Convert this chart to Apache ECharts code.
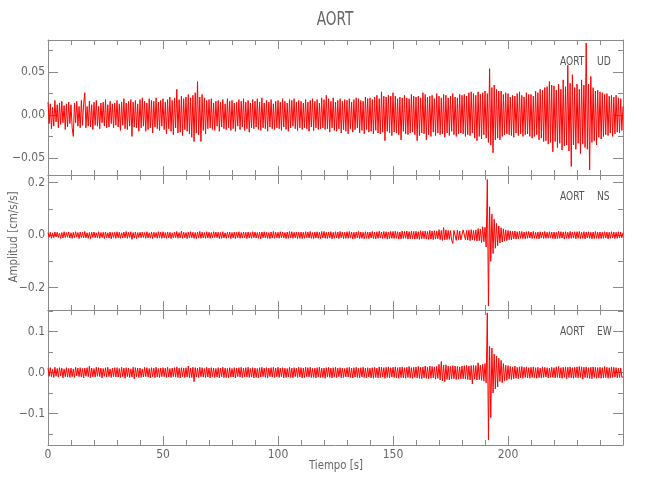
<!DOCTYPE html>
<html>
<head>
<meta charset="utf-8">
<script src="https://cdn.jsdelivr.net/npm/echarts@6/dist/echarts.min.js"></script>
<style>html,body{margin:0;padding:0;background:#fff;}#c{width:650px;height:500px;}</style>
</head>
<body>
<div id="c"></div>
<script>
// ---- data: one sample every 0.5 s, t = 0..250 s (cm/s/s) ----
const sampleStep = 0.5;
const udValues = [
0.015,-0.010,0.013,-0.016,0.009,-0.013,0.017,-0.008,0.012,-0.015,0.014,-0.011,0.016,-0.009,0.011,-0.017,0.013,-0.014,0.015,-0.010,
0.012,-0.015,-0.025,0.014,-0.009,0.016,-0.013,0.010,-0.015,0.017,-0.012,0.013,0.026,-0.015,0.010,-0.013,0.016,-0.014,0.012,-0.017,
0.015,-0.012,0.017,-0.013,0.010,-0.016,0.014,-0.009,0.015,-0.013,0.018,-0.015,0.012,-0.014,0.016,-0.010,0.013,-0.015,0.014,-0.012,
0.017,-0.014,0.013,-0.018,0.015,-0.012,0.019,-0.016,0.014,-0.017,0.016,-0.013,0.018,-0.025,0.015,-0.014,0.017,-0.015,0.013,-0.019,
0.018,-0.015,0.020,-0.013,0.016,-0.019,0.014,-0.017,0.019,-0.015,0.017,-0.021,0.016,-0.014,0.020,-0.016,0.015,-0.018,0.017,-0.013,
0.019,-0.017,0.015,-0.022,0.018,-0.016,0.021,-0.019,0.017,-0.023,0.020,-0.015,0.030,-0.021,0.018,-0.020,0.022,-0.024,0.019,-0.017,
0.021,-0.019,0.024,-0.022,0.020,-0.026,0.023,-0.031,0.026,-0.021,0.039,-0.023,0.021,-0.031,0.024,-0.018,0.020,-0.022,0.017,-0.016,
0.018,-0.015,0.019,-0.017,0.014,-0.018,0.016,-0.013,0.017,-0.019,0.015,-0.014,0.018,-0.016,0.013,-0.017,0.019,-0.015,0.016,-0.018,
0.017,-0.016,0.014,-0.019,0.015,-0.013,0.018,-0.017,0.016,-0.014,0.019,-0.018,0.015,-0.016,0.017,-0.020,0.014,-0.015,0.018,-0.016,
0.016,-0.014,0.019,-0.017,0.015,-0.018,0.020,-0.015,0.014,-0.016,0.017,-0.019,0.015,-0.014,0.018,-0.016,0.013,-0.017,0.016,-0.015,
0.017,-0.016,0.015,-0.018,0.019,-0.014,0.016,-0.017,0.014,-0.019,0.018,-0.015,0.017,-0.013,0.019,-0.016,0.015,-0.018,0.017,-0.015,
0.016,-0.017,0.014,-0.015,0.018,-0.016,0.015,-0.019,0.017,-0.014,0.019,-0.018,0.016,-0.015,0.018,-0.017,0.014,-0.016,0.020,-0.015,
0.018,-0.017,0.023,-0.016,0.019,-0.020,0.016,-0.015,0.020,-0.018,0.015,-0.019,0.017,-0.016,0.019,-0.021,0.016,-0.017,0.018,-0.019,
0.017,-0.022,0.019,-0.016,0.015,-0.020,0.018,-0.017,0.020,-0.015,0.019,-0.021,0.017,-0.018,0.016,-0.022,0.021,-0.017,0.019,-0.020,
0.020,-0.019,0.018,-0.022,0.021,-0.018,0.023,-0.021,0.019,-0.022,0.027,-0.020,0.022,-0.030,0.021,-0.019,0.023,-0.021,0.022,-0.024,
0.026,-0.020,0.022,-0.021,0.019,-0.023,0.021,-0.029,0.020,-0.019,0.023,-0.022,0.020,-0.023,0.019,-0.021,0.024,-0.020,0.022,-0.023,
0.021,-0.030,0.022,-0.024,0.020,-0.021,0.026,-0.022,0.024,-0.029,0.021,-0.023,0.022,-0.025,0.023,-0.020,0.019,-0.024,0.025,-0.021,
0.022,-0.023,0.020,-0.022,0.024,-0.026,0.023,-0.021,0.020,-0.024,0.022,-0.019,0.025,-0.023,0.021,-0.025,0.020,-0.022,0.024,-0.021,
0.023,-0.022,0.024,-0.025,0.022,-0.023,0.026,-0.024,0.027,-0.021,0.025,-0.027,0.023,-0.030,0.027,-0.025,0.024,-0.028,0.026,-0.023,
0.028,-0.027,0.025,-0.032,0.054,-0.035,0.032,-0.044,0.035,-0.029,0.030,-0.027,0.028,-0.029,0.028,-0.025,0.024,-0.023,0.026,-0.022,
0.025,-0.023,0.021,-0.024,0.023,-0.026,0.022,-0.021,0.025,-0.024,0.027,-0.022,0.023,-0.025,0.021,-0.023,0.026,-0.022,0.024,-0.025,
0.024,-0.027,0.022,-0.025,0.028,-0.023,0.026,-0.029,0.030,-0.027,0.029,-0.031,0.032,-0.030,0.033,-0.034,0.039,-0.032,0.035,-0.043,
0.034,-0.031,0.029,-0.038,0.036,-0.033,0.030,-0.041,0.041,-0.036,0.033,-0.035,0.058,-0.042,0.037,-0.060,0.047,-0.035,0.032,-0.040,
0.036,-0.033,0.030,-0.045,0.041,-0.034,0.035,-0.038,0.084,-0.040,0.036,-0.064,0.045,-0.032,0.032,-0.030,0.028,-0.035,0.029,-0.026,
0.027,-0.028,0.026,-0.025,0.024,-0.023,0.025,-0.024,0.022,-0.021,0.023,-0.025,0.021,-0.022,0.023,-0.020,0.020,-0.021,0.019,-0.018,
0.010
];
const nsValues = [
0.010,-0.008,0.011,-0.012,0.009,-0.010,0.012,-0.007,0.011,-0.009,0.008,-0.012,0.010,-0.011,0.013,-0.009,0.010,-0.008,0.012,-0.011,
0.009,-0.012,0.011,-0.010,0.013,-0.008,0.010,-0.013,0.012,-0.009,0.011,-0.010,0.014,-0.011,0.009,-0.012,0.010,-0.013,0.011,-0.009,
0.012,-0.010,0.009,-0.011,0.013,-0.012,0.010,-0.009,0.011,-0.013,0.012,-0.010,0.009,-0.011,0.012,-0.014,0.010,-0.009,0.011,-0.012,
0.013,-0.010,0.011,-0.012,0.009,-0.011,0.012,-0.010,0.014,-0.012,0.011,-0.009,0.013,-0.016,0.010,-0.011,0.012,-0.013,0.010,-0.009,
0.011,-0.010,0.012,-0.009,0.010,-0.012,0.013,-0.011,0.009,-0.010,0.012,-0.013,0.011,-0.009,0.010,-0.012,0.013,-0.010,0.011,-0.012,
0.013,-0.011,0.010,-0.012,0.012,-0.010,0.011,-0.013,0.009,-0.011,0.012,-0.010,0.014,-0.012,0.010,-0.011,0.015,-0.012,0.011,-0.010,
0.010,-0.013,0.012,-0.011,0.013,-0.010,0.011,-0.012,0.010,-0.013,0.012,-0.011,0.014,-0.012,0.011,-0.010,0.010,-0.012,0.013,-0.011,
0.011,-0.012,0.010,-0.011,0.013,-0.009,0.012,-0.010,0.011,-0.013,0.010,-0.012,0.013,-0.011,0.009,-0.012,0.011,-0.010,0.012,-0.013,
0.010,-0.011,0.012,-0.013,0.011,-0.010,0.013,-0.012,0.010,-0.011,0.012,-0.010,0.011,-0.013,0.012,-0.011,0.010,-0.012,0.013,-0.010,
0.012,-0.011,0.010,-0.012,0.011,-0.014,0.012,-0.010,0.013,-0.011,0.011,-0.012,0.010,-0.013,0.012,-0.011,0.014,-0.012,0.011,-0.010,
0.011,-0.012,0.013,-0.010,0.012,-0.011,0.010,-0.013,0.012,-0.012,0.014,-0.011,0.013,-0.012,0.011,-0.010,0.012,-0.013,0.011,-0.012,
0.012,-0.013,0.011,-0.012,0.013,-0.010,0.012,-0.011,0.014,-0.012,0.010,-0.013,0.012,-0.011,0.013,-0.012,0.011,-0.013,0.014,-0.011,
0.014,-0.012,0.011,-0.013,0.012,-0.011,0.013,-0.014,0.011,-0.012,0.013,-0.011,0.012,-0.013,0.014,-0.010,0.012,-0.013,0.011,-0.012,
0.013,-0.012,0.014,-0.011,0.012,-0.014,0.011,-0.013,0.012,-0.011,0.014,-0.013,0.012,-0.012,0.011,-0.014,0.013,-0.012,0.012,-0.013,
0.012,-0.011,0.014,-0.013,0.012,-0.014,0.013,-0.012,0.015,-0.011,0.012,-0.013,0.014,-0.012,0.013,-0.015,0.012,-0.013,0.014,-0.012,
0.014,-0.013,0.015,-0.012,0.013,-0.015,0.012,-0.014,0.016,-0.013,0.014,-0.012,0.016,-0.015,0.013,-0.014,0.015,-0.013,0.014,-0.015,
0.015,-0.014,0.013,-0.016,0.017,-0.014,0.015,-0.013,0.016,-0.015,0.014,-0.016,0.018,-0.015,0.016,-0.017,0.017,-0.015,0.016,-0.014,
0.021,-0.017,0.018,-0.020,0.029,-0.018,0.020,-0.017,0.018,-0.016,0.017,-0.019,-0.032,0.018,0.017,-0.020,0.019,-0.017,0.016,-0.018,
-0.018,0.020,0.019,-0.017,0.018,-0.019,0.019,-0.021,0.021,-0.018,0.018,-0.020,0.020,-0.022,0.025,-0.021,0.023,-0.028,0.032,-0.025,
0.030,-0.045,0.212,-0.270,0.108,-0.100,0.080,-0.070,0.060,-0.050,0.045,-0.040,0.035,-0.030,0.028,-0.026,0.024,-0.022,0.020,-0.021,
0.018,-0.017,0.016,-0.018,0.015,-0.014,0.016,-0.015,0.013,-0.014,0.015,-0.012,0.014,-0.013,0.012,-0.014,0.013,-0.012,0.014,-0.011,
0.012,-0.013,0.014,-0.012,0.011,-0.013,0.012,-0.014,0.013,-0.011,0.012,-0.013,0.014,-0.012,0.011,-0.012,0.013,-0.011,0.012,-0.013,
0.012,-0.014,0.011,-0.013,0.015,-0.012,0.013,-0.011,0.012,-0.015,0.013,-0.012,0.011,-0.013,0.014,-0.012,0.012,-0.011,0.013,-0.014,
0.013,-0.012,0.014,-0.013,0.011,-0.012,0.013,-0.014,0.012,-0.011,0.013,-0.012,0.011,-0.014,0.012,-0.013,0.014,-0.012,0.011,-0.013,
0.012,-0.013,0.011,-0.012,0.013,-0.011,0.012,-0.014,0.011,-0.012,0.013,-0.011,0.012,-0.013,0.011,-0.012,0.013,-0.011,0.012,-0.010,
0.009
];
const ewValues = [
0.011,-0.009,0.012,-0.010,0.008,-0.012,0.013,-0.009,0.010,-0.011,0.012,-0.008,0.011,-0.013,0.009,-0.010,0.012,-0.011,0.010,-0.012,
0.011,-0.010,0.009,-0.012,0.013,-0.008,0.011,-0.010,0.012,-0.011,0.010,-0.013,0.011,-0.009,0.012,-0.010,0.016,-0.012,0.011,-0.010,
0.010,-0.011,0.013,-0.009,0.012,-0.010,0.011,-0.013,0.010,-0.009,0.012,-0.011,0.013,-0.010,0.009,-0.012,0.011,-0.010,0.012,-0.011,
0.012,-0.011,0.010,-0.012,0.013,-0.010,0.011,-0.014,0.012,-0.010,0.011,-0.012,0.009,-0.011,0.013,-0.015,0.012,-0.010,0.011,-0.012,
0.011,-0.012,0.009,-0.011,0.013,-0.010,0.012,-0.011,0.010,-0.013,0.012,-0.010,0.011,-0.012,0.013,-0.011,0.010,-0.012,0.011,-0.010,
0.012,-0.010,0.011,-0.012,0.013,-0.011,0.010,-0.012,0.011,-0.010,0.012,-0.011,0.014,-0.012,0.011,-0.013,0.012,-0.010,0.011,-0.012,
0.012,-0.011,0.016,-0.013,0.011,-0.012,0.013,-0.022,0.012,-0.011,0.011,-0.012,0.013,-0.010,0.012,-0.011,0.010,-0.012,0.013,-0.011,
0.011,-0.013,0.012,-0.010,0.011,-0.012,0.010,-0.011,0.012,-0.013,0.011,-0.010,0.013,-0.012,0.011,-0.012,0.010,-0.013,0.012,-0.011,
0.010,-0.011,0.012,-0.013,0.011,-0.010,0.012,-0.011,0.013,-0.012,0.011,-0.010,0.012,-0.011,0.013,-0.012,0.010,-0.011,0.012,-0.013,
0.011,-0.012,0.010,-0.013,0.012,-0.011,0.013,-0.010,0.011,-0.012,0.012,-0.013,0.011,-0.010,0.012,-0.011,0.013,-0.012,0.011,-0.010,
0.013,-0.012,0.011,-0.010,0.012,-0.013,0.011,-0.012,0.010,-0.011,0.013,-0.012,0.011,-0.013,0.012,-0.010,0.011,-0.012,0.013,-0.011,
0.012,-0.013,0.011,-0.012,0.013,-0.010,0.012,-0.011,0.013,-0.012,0.010,-0.012,0.011,-0.013,0.012,-0.011,0.013,-0.012,0.011,-0.012,
0.011,-0.014,0.012,-0.011,0.013,-0.012,0.011,-0.013,0.012,-0.011,0.013,-0.012,0.011,-0.010,0.012,-0.013,0.011,-0.012,0.010,-0.011,
0.012,-0.011,0.013,-0.012,0.011,-0.013,0.012,-0.011,0.013,-0.012,0.011,-0.013,0.012,-0.011,0.013,-0.012,0.011,-0.013,0.012,-0.011,
0.011,-0.013,0.012,-0.014,0.013,-0.012,0.011,-0.013,0.014,-0.012,0.013,-0.011,0.012,-0.014,0.013,-0.012,0.014,-0.013,0.012,-0.011,
0.013,-0.012,0.014,-0.013,0.012,-0.014,0.013,-0.012,0.014,-0.013,0.012,-0.014,0.013,-0.012,0.015,-0.013,0.012,-0.014,0.013,-0.012,
0.014,-0.013,0.015,-0.014,0.013,-0.015,0.014,-0.013,0.016,-0.014,0.013,-0.015,0.016,-0.014,0.015,-0.013,0.014,-0.016,0.015,-0.014,
0.020,-0.018,0.027,-0.020,0.018,-0.022,0.019,-0.017,0.016,-0.018,0.015,-0.016,0.017,-0.015,0.016,-0.017,0.015,-0.016,0.014,-0.015,
0.016,-0.015,0.017,-0.016,0.018,-0.017,0.016,-0.018,0.017,-0.028,0.018,-0.016,0.017,-0.018,0.024,-0.017,0.018,-0.019,0.020,-0.021,
0.022,-0.025,0.146,-0.165,0.064,-0.110,0.060,-0.050,0.045,-0.040,0.040,-0.035,0.035,-0.022,0.030,-0.025,0.022,-0.020,0.018,-0.019,
0.017,-0.016,0.015,-0.017,0.014,-0.015,0.016,-0.014,0.013,-0.015,0.014,-0.013,0.015,-0.014,0.013,-0.012,0.014,-0.013,0.012,-0.014,
0.013,-0.012,0.014,-0.013,0.012,-0.014,0.013,-0.012,0.011,-0.013,0.014,-0.012,0.013,-0.011,0.012,-0.013,0.011,-0.012,0.013,-0.012,
0.012,-0.013,0.014,-0.012,0.015,-0.013,0.012,-0.014,0.013,-0.012,0.014,-0.015,0.013,-0.012,0.014,-0.013,0.012,-0.014,0.013,-0.012,
0.014,-0.013,0.015,-0.012,0.014,-0.016,0.013,-0.012,0.014,-0.013,0.012,-0.014,0.013,-0.015,0.014,-0.012,0.013,-0.014,0.012,-0.013,
0.013,-0.014,0.012,-0.013,0.015,-0.012,0.013,-0.014,0.012,-0.013,0.014,-0.012,0.013,-0.011,0.012,-0.013,0.011,-0.012,0.011,-0.012,
-0.010
];

// ---- axis ranges & ticks ----
const timeRange = [0, 250];
const timeTickStep = 50;
const panelNames = ['UD', 'NS', 'EW'];
const stationName = 'AORT';
const yRanges = [[-0.070, 0.0875], [-0.285, 0.229], [-0.177, 0.153]];
const yMajorTicks = [[-0.05, 0, 0.05], [-0.2, 0, 0.2], [-0.1, 0, 0.1]];
const yMinorTicks = [[-0.025, 0.025, 0.075], [-0.1, 0.1], [-0.15, -0.05, 0.05, 0.15]];
const yDecimals = [2, 1, 1];

const FONT = '"Liberation Sans Narrow", "DejaVu Sans Condensed", "Open Sans", sans-serif';
const TXT = '#666';
const LINE = '#8a8a8a';
const panelSeries = [udValues, nsValues, ewValues];

const grids = [], xAxes = [], yAxes = [], series = [], graphics = [];
const tops = [40, 175, 310];
for (let g = 0; g < 3; g++) {
  grids.push({left: 48, width: 575, top: tops[g], height: 135, containLabel: false});
  const isBottom = g === 2;
  ['bottom', 'top'].forEach(pos => {
    xAxes.push({
      type: 'value', gridIndex: g, position: pos, min: timeRange[0], max: timeRange[1], interval: timeTickStep,
      axisLine: {show: true, onZero: false, lineStyle: {color: LINE, width: 1}},
      axisTick: {show: true, inside: true, length: 9, lineStyle: {color: LINE}},
      minorTick: {show: true, splitNumber: 5, length: 5, lineStyle: {color: LINE}},
      splitLine: {show: false},
      axisLabel: {show: isBottom && pos === 'bottom', showMaxLabel: false, margin: 4, color: TXT, fontFamily: FONT, fontSize: 12}
    });
  });
  const dec = yDecimals[g];
  const base = () => ({type: 'value', gridIndex: g, min: yRanges[g][0], max: yRanges[g][1], splitLine: {show: false}});
  yAxes.push(Object.assign(base(), {
    position: 'left',
    axisLine: {show: true, onZero: false, lineStyle: {color: LINE}},
    axisTick: {show: true, inside: true, length: 10, customValues: yMajorTicks[g], lineStyle: {color: LINE}},
    axisLabel: {show: true, customValues: yMajorTicks[g], margin: 3, color: TXT, fontFamily: FONT, fontSize: 12,
      formatter: v => (v < 0 ? '\u2212' : '') + Math.abs(v).toFixed(dec)}
  }));
  yAxes.push(Object.assign(base(), {
    position: 'left',
    axisLine: {show: false, onZero: false},
    axisTick: {show: true, inside: true, length: 5, customValues: yMinorTicks[g], lineStyle: {color: LINE}},
    axisLabel: {show: false}
  }));
  yAxes.push(Object.assign(base(), {
    position: 'right',
    axisLine: {show: true, onZero: false, lineStyle: {color: LINE}},
    axisTick: {show: true, inside: true, length: 10, customValues: yMajorTicks[g], lineStyle: {color: LINE}},
    axisLabel: {show: false}
  }));
  yAxes.push(Object.assign(base(), {
    position: 'right',
    axisLine: {show: false, onZero: false},
    axisTick: {show: true, inside: true, length: 5, customValues: yMinorTicks[g], lineStyle: {color: LINE}},
    axisLabel: {show: false}
  }));
  series.push({
    type: 'line', xAxisIndex: 2 * g, yAxisIndex: 4 * g, showSymbol: false, symbol: 'none',
    data: panelSeries[g].map((v, i) => [i * sampleStep, v]),
    lineStyle: {color: '#ff0000', width: 1}, clip: true, animation: false, silent: true
  });
  const ty = tops[g] + 22;
  graphics.push({type: 'text', x: 560, y: ty, scaleX: 0.78, silent: true,
    style: {text: stationName, fill: '#555', font: '13px ' + FONT, verticalAlign: 'middle'}});
  graphics.push({type: 'text', x: 597, y: ty, scaleX: 0.78, silent: true,
    style: {text: panelNames[g], fill: '#555', font: '13px ' + FONT, verticalAlign: 'middle'}});
}
graphics.push({type: 'text', x: 335, y: 20, scaleX: 0.8, silent: true,
  style: {text: stationName, fill: '#666', font: '19px ' + FONT, align: 'center', verticalAlign: 'middle'}});
graphics.push({type: 'text', x: 336, y: 466, scaleX: 0.87, silent: true,
  style: {text: 'Tiempo [s]', fill: '#666', font: '13px ' + FONT, align: 'center', verticalAlign: 'middle'}});
graphics.push({type: 'text', x: 14, y: 237, rotation: Math.PI / 2, scaleX: 0.88, silent: true,
  style: {text: 'Amplitud [cm/s/s]', fill: '#666', font: '13px ' + FONT, align: 'center', verticalAlign: 'middle'}});

const chart = echarts.init(document.getElementById('c'), null, {renderer: 'canvas'});
chart.setOption({
  animation: false,
  backgroundColor: '#ffffff',
  grid: grids, xAxis: xAxes, yAxis: yAxes, series: series, graphic: graphics
});
</script>
</body>
</html>
